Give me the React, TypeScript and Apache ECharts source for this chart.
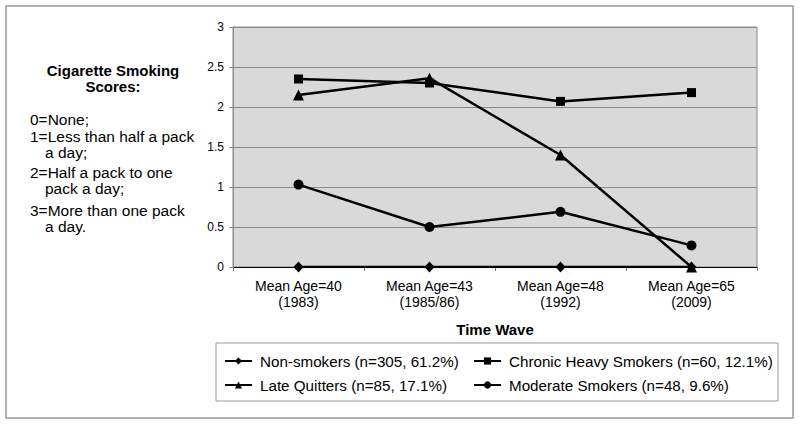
import React, { useEffect, useRef } from "react";
import * as echarts from "echarts";

const categories = ["Mean Age=40\n(1983)", "Mean Age=43\n(1985/86)", "Mean Age=48\n(1992)", "Mean Age=65\n(2009)"];
const nonSmokers = [0, 0, 0, 0];
const chronicHeavy = [2.35, 2.3, 2.07, 2.18];
const lateQuitters = [2.15, 2.36, 1.4, 0];
const moderate = [1.03, 0.5, 0.69, 0.27];
const seriesNames = [
  "Non-smokers (n=305, 61.2%)",
  "Chronic Heavy Smokers (n=60, 12.1%)",
  "Late Quitters (n=85, 17.1%)",
  "Moderate Smokers (n=48, 9.6%)",
];
const noteTitle = ["Cigarette Smoking", "Scores:"];
const noteLines = [
  { text: "0=None;", indent: false },
  { text: "1=Less than half a pack", indent: false },
  { text: "a day;", indent: true },
  { text: "2=Half a pack to one", indent: false },
  { text: "pack a day;", indent: true },
  { text: "3=More than one pack", indent: false },
  { text: "a day.", indent: true },
];
const noteCenters = [119, 136, 152, 172, 188, 210, 226];

const FONT = "'Liberation Sans', Arial, Helvetica, sans-serif";

export default function App() {
  const ref = useRef<HTMLDivElement>(null);
  useEffect(() => {
    document.body.style.margin = "0";
    const chart = echarts.init(ref.current!, null, { renderer: "svg" });
    const mk = (name: string, data: number[], symbol: string, size: any) => ({
      name,
      type: "line",
      data,
      symbol,
      symbolSize: size,
      showSymbol: true,
      lineStyle: { color: "#000", width: 2.5 },
      itemStyle: { color: "#000" },
      emphasis: { disabled: true },
      z: 3,
    });
    const legendPos = [
      { left: 224, top: 352 },
      { left: 473, top: 352 },
      { left: 224, top: 376 },
      { left: 473, top: 376 },
    ];
    const legends = seriesNames.map((n, i) => ({
      data: [n],
      left: legendPos[i].left,
      top: legendPos[i].top,
      padding: 0,
      itemWidth: 27,
      itemHeight: 9,
      selectedMode: false,
      textStyle: { fontFamily: FONT, fontSize: 15.2, color: "#000", lineHeight: 18, padding: [0, 0, 0, 3] },
    }));
    const graphics: any[] = [
      { type: "rect", shape: { x: 6, y: 6, width: 787, height: 412 }, style: { fill: "none", stroke: "#999", lineWidth: 1.5 }, silent: true },
      { type: "rect", shape: { x: 216, y: 343, width: 562, height: 58 }, style: { fill: "none", stroke: "#999", lineWidth: 1 }, silent: true },
    ];
    noteTitle.forEach((t, i) => {
      graphics.push({
        type: "text",
        x: 113,
        y: 70 + i * 16.5,
        style: { text: t, fontFamily: FONT, fontSize: 15, fontWeight: "bold", fill: "#000", align: "center", verticalAlign: "middle" },
        silent: true,
      });
    });
    noteLines.forEach((l, i) => {
      graphics.push({
        type: "text",
        x: l.indent ? 45 : 30,
        y: noteCenters[i],
        style: { text: l.text, fontFamily: FONT, fontSize: 15.5, fill: "#000", align: "left", verticalAlign: "middle" },
        silent: true,
      });
    });
    chart.setOption({
      animation: false,
      backgroundColor: "#fff",
      textStyle: { fontFamily: FONT },
      grid: {
        left: 233,
        top: 27,
        right: 43,
        bottom: 157,
        show: true,
        backgroundColor: "#d9d9d9",
        borderColor: "#8a8a8a",
        borderWidth: 1,
      },
      xAxis: {
        type: "category",
        data: categories,
        boundaryGap: true,
        name: "Time Wave",
        nameLocation: "middle",
        nameGap: 55,
        nameTextStyle: { fontFamily: FONT, fontSize: 15, fontWeight: "bold", color: "#000" },
        axisLine: { show: true, lineStyle: { color: "#000", width: 1 } },
        axisTick: { show: true, length: 4, lineStyle: { color: "#777" } },
        axisLabel: { fontFamily: FONT, fontSize: 14, color: "#000", lineHeight: 16, margin: 11, interval: 0 },
        splitLine: { show: false },
      },
      yAxis: {
        type: "value",
        min: 0,
        max: 3,
        interval: 0.5,
        axisLine: { show: true, lineStyle: { color: "#8a8a8a", width: 1 } },
        axisTick: { show: true, length: 4, lineStyle: { color: "#8a8a8a" } },
        axisLabel: { fontFamily: FONT, fontSize: 12, color: "#000", margin: 9 },
        splitLine: { show: true, lineStyle: { color: "#8a8a8a", width: 1 } },
      },
      legend: legends,
      graphic: graphics,
      series: [
        mk(seriesNames[0], nonSmokers, "diamond", [10, 11]),
        mk(seriesNames[1], chronicHeavy, "rect", 9),
        mk(seriesNames[2], lateQuitters, "triangle", 11),
        mk(seriesNames[3], moderate, "circle", 10),
      ],
    });
    return () => chart.dispose();
  }, []);
  return <div ref={ref} style={{ width: 800, height: 424 }} />;
}
